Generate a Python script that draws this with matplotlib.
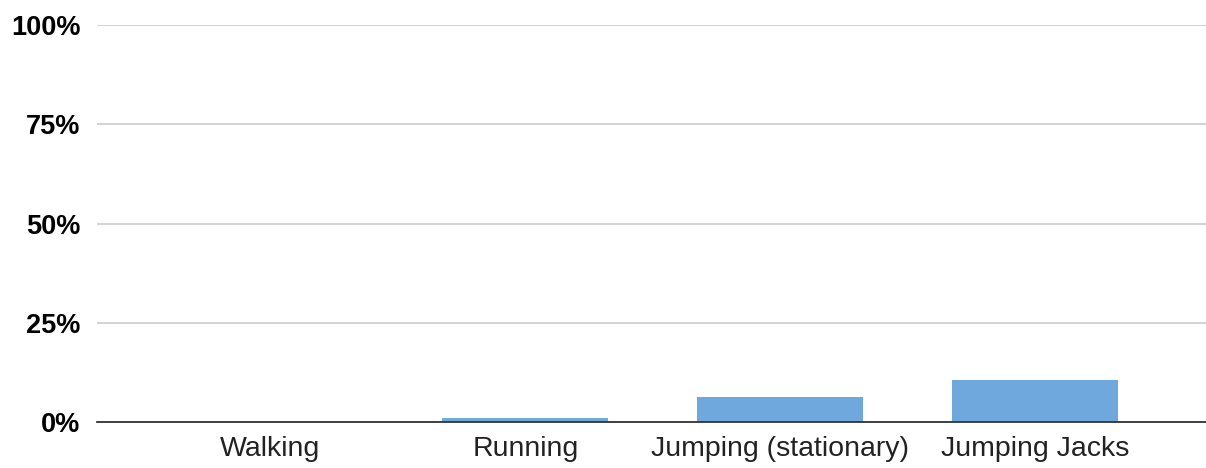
import matplotlib
matplotlib.use("Agg")
import matplotlib.pyplot as plt
from matplotlib.ticker import FuncFormatter

categories = ["Walking", "Running", "Jumping (stationary)", "Jumping Jacks"]
values = [0.0, 0.9, 6.2, 10.5]
yticks = [0, 25, 50, 75, 100]

plt.rcParams['font.family'] = ['Liberation Sans', 'DejaVu Sans']

fig = plt.figure(figsize=(12.06, 4.68), dpi=100)
ax = fig.add_axes([97/1206, 1-422/468, 1-97/1206, (422-25)/468])

x = range(len(categories))
ax.bar(x, values, width=0.65, color="#6fa8dc", zorder=2)

ax.set_ylim(0, 100)
ax.set_xlim(-0.68, 3.67)
ax.set_yticks(yticks)
ax.yaxis.set_major_formatter(FuncFormatter(lambda v, p: f"{int(v)}%"))
ax.set_xticks(list(x))
ax.set_xticklabels(categories, fontsize=20.5)
for lab in ax.get_yticklabels():
    lab.set_fontweight("bold")
    lab.set_fontsize(19.5)
ax.tick_params(axis='y', length=0, pad=12, colors='black')
ax.tick_params(axis='x', length=0, pad=10, colors='#222222')
ax.grid(axis='y', color='#d0d0d0', linewidth=1.3, zorder=0)
for s in ['top', 'right', 'left']:
    ax.spines[s].set_visible(False)
ax.spines['bottom'].set_color('#333333')
ax.spines['bottom'].set_linewidth(1.3)
ax.spines['bottom'].set_zorder(3)

fig.savefig("out.png", dpi=100)
